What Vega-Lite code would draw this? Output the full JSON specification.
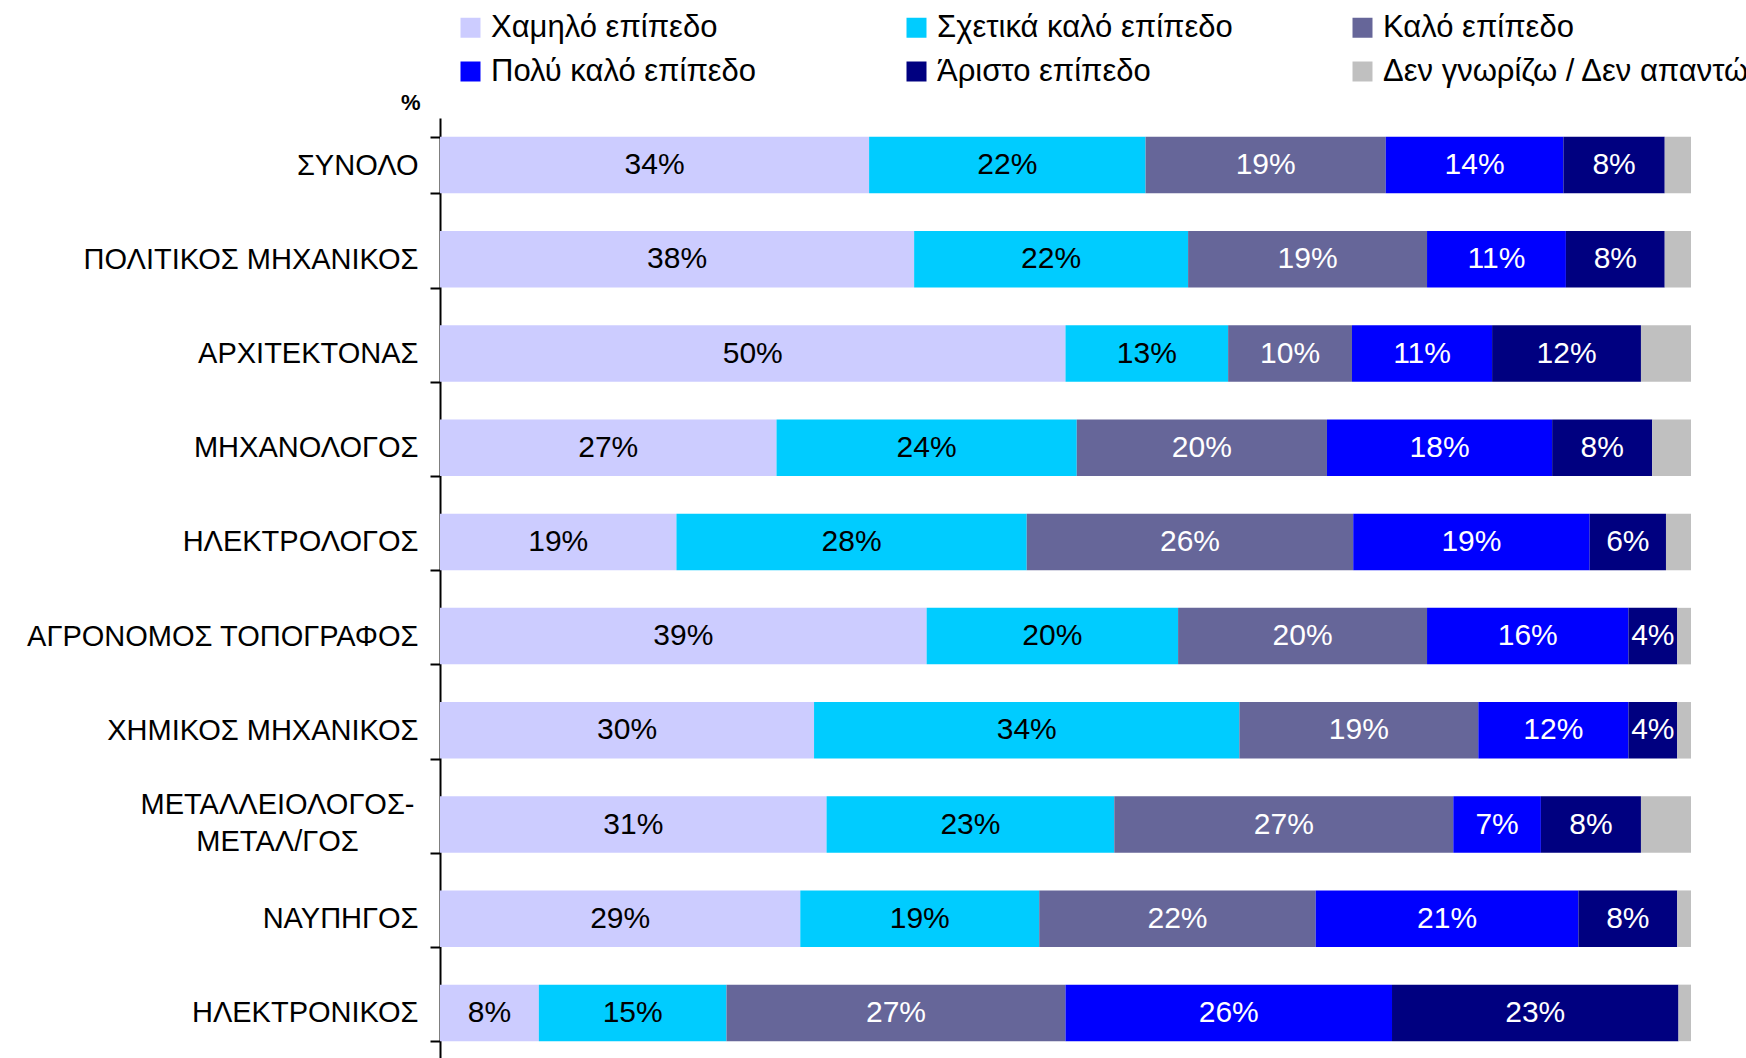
{
  "$schema": "https://vega.github.io/schema/vega-lite/v6.json",
  "autosize": "none",
  "padding": {"left": 440, "top": 118, "right": 55, "bottom": 0},
  "width": 1251,
  "height": 942,
  "background": "white",
  "config": {
    "font": "Liberation Sans",
    "view": {"stroke": null}
  },
  "data": {
    "values": [
      {"cat": "ΣΥΝΟΛΟ", "level": "Χαμηλό επίπεδο", "value": 34.3, "label": "34%"},
      {"cat": "ΣΥΝΟΛΟ", "level": "Σχετικά καλό επίπεδο", "value": 22.1, "label": "22%"},
      {"cat": "ΣΥΝΟΛΟ", "level": "Καλό επίπεδο", "value": 19.2, "label": "19%"},
      {"cat": "ΣΥΝΟΛΟ", "level": "Πολύ καλό επίπεδο", "value": 14.2, "label": "14%"},
      {"cat": "ΣΥΝΟΛΟ", "level": "Άριστο επίπεδο", "value": 8.1, "label": "8%"},
      {"cat": "ΣΥΝΟΛΟ", "level": "Δεν γνωρίζω / Δεν απαντώ", "value": 2.1, "label": ""},
      {"cat": "ΠΟΛΙΤΙΚΟΣ ΜΗΧΑΝΙΚΟΣ", "level": "Χαμηλό επίπεδο", "value": 37.9, "label": "38%"},
      {"cat": "ΠΟΛΙΤΙΚΟΣ ΜΗΧΑΝΙΚΟΣ", "level": "Σχετικά καλό επίπεδο", "value": 21.9, "label": "22%"},
      {"cat": "ΠΟΛΙΤΙΚΟΣ ΜΗΧΑΝΙΚΟΣ", "level": "Καλό επίπεδο", "value": 19.1, "label": "19%"},
      {"cat": "ΠΟΛΙΤΙΚΟΣ ΜΗΧΑΝΙΚΟΣ", "level": "Πολύ καλό επίπεδο", "value": 11.1, "label": "11%"},
      {"cat": "ΠΟΛΙΤΙΚΟΣ ΜΗΧΑΝΙΚΟΣ", "level": "Άριστο επίπεδο", "value": 7.9, "label": "8%"},
      {"cat": "ΠΟΛΙΤΙΚΟΣ ΜΗΧΑΝΙΚΟΣ", "level": "Δεν γνωρίζω / Δεν απαντώ", "value": 2.1, "label": ""},
      {"cat": "ΑΡΧΙΤΕΚΤΟΝΑΣ", "level": "Χαμηλό επίπεδο", "value": 50.0, "label": "50%"},
      {"cat": "ΑΡΧΙΤΕΚΤΟΝΑΣ", "level": "Σχετικά καλό επίπεδο", "value": 13.0, "label": "13%"},
      {"cat": "ΑΡΧΙΤΕΚΤΟΝΑΣ", "level": "Καλό επίπεδο", "value": 9.9, "label": "10%"},
      {"cat": "ΑΡΧΙΤΕΚΤΟΝΑΣ", "level": "Πολύ καλό επίπεδο", "value": 11.2, "label": "11%"},
      {"cat": "ΑΡΧΙΤΕΚΤΟΝΑΣ", "level": "Άριστο επίπεδο", "value": 11.9, "label": "12%"},
      {"cat": "ΑΡΧΙΤΕΚΤΟΝΑΣ", "level": "Δεν γνωρίζω / Δεν απαντώ", "value": 4.0, "label": ""},
      {"cat": "ΜΗΧΑΝΟΛΟΓΟΣ", "level": "Χαμηλό επίπεδο", "value": 26.9, "label": "27%"},
      {"cat": "ΜΗΧΑΝΟΛΟΓΟΣ", "level": "Σχετικά καλό επίπεδο", "value": 24.0, "label": "24%"},
      {"cat": "ΜΗΧΑΝΟΛΟΓΟΣ", "level": "Καλό επίπεδο", "value": 20.0, "label": "20%"},
      {"cat": "ΜΗΧΑΝΟΛΟΓΟΣ", "level": "Πολύ καλό επίπεδο", "value": 18.0, "label": "18%"},
      {"cat": "ΜΗΧΑΝΟΛΟΓΟΣ", "level": "Άριστο επίπεδο", "value": 8.0, "label": "8%"},
      {"cat": "ΜΗΧΑΝΟΛΟΓΟΣ", "level": "Δεν γνωρίζω / Δεν απαντώ", "value": 3.1, "label": ""},
      {"cat": "ΗΛΕΚΤΡΟΛΟΓΟΣ", "level": "Χαμηλό επίπεδο", "value": 18.9, "label": "19%"},
      {"cat": "ΗΛΕΚΤΡΟΛΟΓΟΣ", "level": "Σχετικά καλό επίπεδο", "value": 28.0, "label": "28%"},
      {"cat": "ΗΛΕΚΤΡΟΛΟΓΟΣ", "level": "Καλό επίπεδο", "value": 26.1, "label": "26%"},
      {"cat": "ΗΛΕΚΤΡΟΛΟΓΟΣ", "level": "Πολύ καλό επίπεδο", "value": 18.9, "label": "19%"},
      {"cat": "ΗΛΕΚΤΡΟΛΟΓΟΣ", "level": "Άριστο επίπεδο", "value": 6.1, "label": "6%"},
      {"cat": "ΗΛΕΚΤΡΟΛΟΓΟΣ", "level": "Δεν γνωρίζω / Δεν απαντώ", "value": 2.0, "label": ""},
      {"cat": "ΑΓΡΟΝΟΜΟΣ ΤΟΠΟΓΡΑΦΟΣ", "level": "Χαμηλό επίπεδο", "value": 38.9, "label": "39%"},
      {"cat": "ΑΓΡΟΝΟΜΟΣ ΤΟΠΟΓΡΑΦΟΣ", "level": "Σχετικά καλό επίπεδο", "value": 20.1, "label": "20%"},
      {"cat": "ΑΓΡΟΝΟΜΟΣ ΤΟΠΟΓΡΑΦΟΣ", "level": "Καλό επίπεδο", "value": 19.9, "label": "20%"},
      {"cat": "ΑΓΡΟΝΟΜΟΣ ΤΟΠΟΓΡΑΦΟΣ", "level": "Πολύ καλό επίπεδο", "value": 16.1, "label": "16%"},
      {"cat": "ΑΓΡΟΝΟΜΟΣ ΤΟΠΟΓΡΑΦΟΣ", "level": "Άριστο επίπεδο", "value": 3.9, "label": "4%"},
      {"cat": "ΑΓΡΟΝΟΜΟΣ ΤΟΠΟΓΡΑΦΟΣ", "level": "Δεν γνωρίζω / Δεν απαντώ", "value": 1.1, "label": ""},
      {"cat": "ΧΗΜΙΚΟΣ ΜΗΧΑΝΙΚΟΣ", "level": "Χαμηλό επίπεδο", "value": 29.9, "label": "30%"},
      {"cat": "ΧΗΜΙΚΟΣ ΜΗΧΑΝΙΚΟΣ", "level": "Σχετικά καλό επίπεδο", "value": 34.0, "label": "34%"},
      {"cat": "ΧΗΜΙΚΟΣ ΜΗΧΑΝΙΚΟΣ", "level": "Καλό επίπεδο", "value": 19.1, "label": "19%"},
      {"cat": "ΧΗΜΙΚΟΣ ΜΗΧΑΝΙΚΟΣ", "level": "Πολύ καλό επίπεδο", "value": 12.0, "label": "12%"},
      {"cat": "ΧΗΜΙΚΟΣ ΜΗΧΑΝΙΚΟΣ", "level": "Άριστο επίπεδο", "value": 3.9, "label": "4%"},
      {"cat": "ΧΗΜΙΚΟΣ ΜΗΧΑΝΙΚΟΣ", "level": "Δεν γνωρίζω / Δεν απαντώ", "value": 1.1, "label": ""},
      {"cat": "ΜΕΤΑΛΛΕΙΟΛΟΓΟΣ-|ΜΕΤΑΛ/ΓΟΣ", "level": "Χαμηλό επίπεδο", "value": 30.9, "label": "31%"},
      {"cat": "ΜΕΤΑΛΛΕΙΟΛΟΓΟΣ-|ΜΕΤΑΛ/ΓΟΣ", "level": "Σχετικά καλό επίπεδο", "value": 23.0, "label": "23%"},
      {"cat": "ΜΕΤΑΛΛΕΙΟΛΟΓΟΣ-|ΜΕΤΑΛ/ΓΟΣ", "level": "Καλό επίπεδο", "value": 27.1, "label": "27%"},
      {"cat": "ΜΕΤΑΛΛΕΙΟΛΟΓΟΣ-|ΜΕΤΑΛ/ΓΟΣ", "level": "Πολύ καλό επίπεδο", "value": 7.0, "label": "7%"},
      {"cat": "ΜΕΤΑΛΛΕΙΟΛΟΓΟΣ-|ΜΕΤΑΛ/ΓΟΣ", "level": "Άριστο επίπεδο", "value": 8.0, "label": "8%"},
      {"cat": "ΜΕΤΑΛΛΕΙΟΛΟΓΟΣ-|ΜΕΤΑΛ/ΓΟΣ", "level": "Δεν γνωρίζω / Δεν απαντώ", "value": 4.0, "label": ""},
      {"cat": "ΝΑΥΠΗΓΟΣ", "level": "Χαμηλό επίπεδο", "value": 28.8, "label": "29%"},
      {"cat": "ΝΑΥΠΗΓΟΣ", "level": "Σχετικά καλό επίπεδο", "value": 19.1, "label": "19%"},
      {"cat": "ΝΑΥΠΗΓΟΣ", "level": "Καλό επίπεδο", "value": 22.1, "label": "22%"},
      {"cat": "ΝΑΥΠΗΓΟΣ", "level": "Πολύ καλό επίπεδο", "value": 21.0, "label": "21%"},
      {"cat": "ΝΑΥΠΗΓΟΣ", "level": "Άριστο επίπεδο", "value": 7.9, "label": "8%"},
      {"cat": "ΝΑΥΠΗΓΟΣ", "level": "Δεν γνωρίζω / Δεν απαντώ", "value": 1.1, "label": ""},
      {"cat": "ΗΛΕΚΤΡΟΝΙΚΟΣ", "level": "Χαμηλό επίπεδο", "value": 7.9, "label": "8%"},
      {"cat": "ΗΛΕΚΤΡΟΝΙΚΟΣ", "level": "Σχετικά καλό επίπεδο", "value": 15.0, "label": "15%"},
      {"cat": "ΗΛΕΚΤΡΟΝΙΚΟΣ", "level": "Καλό επίπεδο", "value": 27.1, "label": "27%"},
      {"cat": "ΗΛΕΚΤΡΟΝΙΚΟΣ", "level": "Πολύ καλό επίπεδο", "value": 26.1, "label": "26%"},
      {"cat": "ΗΛΕΚΤΡΟΝΙΚΟΣ", "level": "Άριστο επίπεδο", "value": 22.9, "label": "23%"},
      {"cat": "ΗΛΕΚΤΡΟΝΙΚΟΣ", "level": "Δεν γνωρίζω / Δεν απαντώ", "value": 1.0, "label": ""}
    ]
  },
  "transform": [
    {"stack": "value", "groupby": ["cat"], "sort": [], "as": ["x0", "x1"]},
    {"calculate": "(datum.x0 + datum.x1) / 2", "as": "xmid"}
  ],
  "encoding": {
    "y": {
      "field": "cat",
      "type": "nominal",
      "sort": null,
      "scale": {"paddingInner": 0.4, "paddingOuter": 0.2},
      "axis": {
        "title": "%",
        "titleAngle": 0,
        "titleAlign": "right",
        "titleBaseline": "bottom",
        "titleX": -20,
        "titleY": -4,
        "titleFont": "Liberation Sans",
        "titleFontSize": 22,
        "titleFontWeight": "bold",
        "titleColor": "black",
        "labelExpr": "split(datum.label, '|')",
        "labelFont": "Liberation Sans",
        "labelFontSize": 29,
        "labelColor": "black",
        "labelLineHeight": 37,
        "labelOffset": {"condition": {"test": "indexof(datum.label, '|') >= 0", "value": -20}, "value": 0},
        "labelAlign": {"condition": {"test": "indexof(datum.label, '|') >= 0", "value": "center"}, "value": "right"},
        "labelPadding": {"condition": {"test": "indexof(datum.label, '|') >= 0", "value": 153}, "value": 12},
        "labelLimit": 600,
        "tickBand": "extent",
        "tickSize": 10,
        "tickWidth": 2,
        "tickColor": "black",
        "domainColor": "black",
        "domainWidth": 2,
        "grid": false
      }
    }
  },
  "layer": [
    {
      "mark": {"type": "bar", "stroke": null},
      "encoding": {
        "x": {"field": "x0", "type": "quantitative", "scale": {"domain": [0, 100], "nice": false}, "axis": null},
        "x2": {"field": "x1"},
        "color": {
          "field": "level",
          "type": "nominal",
          "sort": null,
          "scale": {
            "domain": ["Χαμηλό επίπεδο", "Σχετικά καλό επίπεδο", "Καλό επίπεδο", "Πολύ καλό επίπεδο", "Άριστο επίπεδο", "Δεν γνωρίζω / Δεν απαντώ"],
            "range": ["#CCCCFF", "#00CCFF", "#666699", "#0000FF", "#000080", "#C0C0C0"]
          },
          "legend": {
            "title": null,
            "orient": "none",
            "legendX": 15,
            "legendY": -106,
            "direction": "horizontal",
            "columns": 3,
            "gridAlign": "all",
            "columnPadding": 43,
            "rowPadding": 12,
            "padding": 0,
            "symbolType": "square",
            "symbolSize": 400,
            "symbolStrokeWidth": 0,
            "symbolOpacity": 1,
            "labelFont": "Liberation Sans",
            "labelFontSize": 31,
            "labelColor": "black",
            "labelOffset": 5,
            "labelLimit": 600
          }
        }
      }
    },
    {
      "mark": {"type": "text", "font": "Liberation Sans", "fontSize": 30, "baseline": "middle", "align": "center"},
      "encoding": {
        "x": {"field": "xmid", "type": "quantitative"},
        "text": {"field": "label"},
        "color": {
          "condition": {"test": "datum.level === 'Χαμηλό επίπεδο' || datum.level === 'Σχετικά καλό επίπεδο'", "value": "black"},
          "value": "white"
        }
      }
    }
  ]
}
